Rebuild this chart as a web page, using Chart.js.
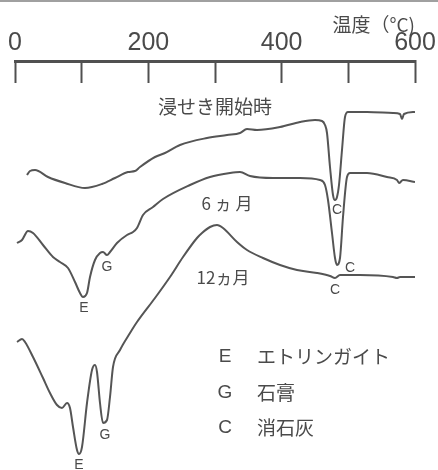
<!DOCTYPE html>
<html>
<head>
<meta charset="utf-8">
<script src="https://cdn.jsdelivr.net/npm/chart.js@4.4.0/dist/chart.umd.min.js"></script>
<style>
  html, body { margin: 0; padding: 0; background: #fff; }
  #wrap { width: 438px; height: 470px; }
</style>
</head>
<body>
<div id="wrap"><canvas id="myChart" width="438" height="470"></canvas></div>
<script>
// DTA curves, x = temperature (°C), y = signal (arbitrary units, curves offset)
var temp0 = [18, 22.5, 30, 49.5, 75, 105, 130.5, 150, 169.5, 180, 187.5, 210, 225, 247.5, 288, 318, 337.5, 348, 363, 397.5, 427.5, 450, 460.5, 465, 468, 472.5, 477, 480, 483, 486, 490.5, 495, 499.5, 528, 567, 577.5, 580.5, 583.5, 600];
var dta0 = [71.5, 72.5, 72.75, 71, 69.5, 68.25, 69.25, 70.75, 72.25, 72.5, 73.5, 76, 77, 79, 80.75, 81.5, 82, 83, 82.75, 83.5, 84.75, 85.25, 85, 84, 82, 73.5, 66.5, 65.25, 66, 69, 77.75, 86, 87.25, 87.25, 87, 86.75, 85.5, 86.75, 87.25];

var temp6 = [3, 10.5, 19.5, 27, 42, 57, 67.5, 79.5, 90, 97.5, 102, 108, 112.5, 120, 127.5, 132, 138, 142.5, 153, 168, 177, 183, 192, 207, 222, 262.5, 292.5, 322.5, 337.5, 352.5, 387, 427.5, 457.5, 465, 469.5, 475.5, 480, 483, 487.5, 492, 498, 502.5, 528, 558, 573, 576, 582, 600];
var dta6 = [54.5, 55.25, 57.5, 57, 54, 51, 49.75, 48.25, 44.75, 42, 41, 42, 46, 50.25, 52, 52.25, 51.5, 52.25, 54.5, 56.5, 57.25, 58.25, 61.5, 63.5, 65.5, 69, 71, 72, 72.25, 71.25, 70.75, 70.75, 70.25, 69, 65.25, 57, 50.75, 49, 50.75, 61, 71, 72, 72, 71, 70.25, 69.5, 70.25, 69.75];

var temp12 = [3, 10.5, 15, 27, 42, 52.5, 63, 70.5, 78, 82.5, 87, 93, 96, 100.5, 108, 115.5, 120, 123, 127.5, 132, 138, 142.5, 147, 157.5, 172.5, 183, 210, 232.5, 252, 273, 280.5, 292.5, 303, 312, 333, 348, 372, 397.5, 423, 453, 472.5, 480, 487.5, 517.5, 567, 573, 577.5, 600];
var dta12 = [29.75, 30.5, 29.75, 26, 20.75, 17, 14, 13.25, 14.5, 13.25, 8.5, 2.75, 1.75, 3.5, 14.5, 22.75, 24, 22.25, 14.5, 9.5, 10.25, 16, 23.5, 27.75, 32, 34.75, 40.75, 46, 51, 55.75, 57, 58.5, 59, 58.25, 54.75, 52.75, 50.75, 49, 47.75, 47, 46.25, 45.75, 46.5, 46.5, 46, 45.75, 46, 46];

var tempTicks = [0, 200, 400, 600];

// curve names and peak marks
var curveNames = ['浸せき開始時', '6 ヵ 月', '12ヵ月'];
var peakMarks = ['C', 'C', 'C', 'E', 'G', 'E', 'G'];
var legendKeys = ['E', 'G', 'C'];
var legendNames = ['エトリンガイト', '石膏', '消石灰'];

function toPoints(xs, ys) {
    var pts = [];
    for (var i = 0; i < xs.length; i++) {
        pts.push({ x: xs[i], y: ys[i] });
    }
    return pts;
}

var ink = '#4a4a4a';
var jp = '"Noto Sans CJK JP", "Noto Sans", sans-serif';
var latin = '"Liberation Sans", Arial, sans-serif';

// text placed in data units (°C, signal)
var textItems = [
    { t: curveNames[0], x: 300, y: 88.5, font: '19px ' + jp, align: 'center' },
    { t: curveNames[1], x: 318, y: 64.25, font: '17px ' + jp, align: 'center' },
    { t: curveNames[2], x: 312, y: 45.75, font: '17px ' + jp, align: 'center' },
    { t: peakMarks[0], x: 483, y: 62.75, font: '14px ' + latin, align: 'center' },
    { t: peakMarks[1], x: 502.5, y: 48.25, font: '14px ' + latin, align: 'center' },
    { t: peakMarks[2], x: 480, y: 42.75, font: '14px ' + latin, align: 'center' },
    { t: peakMarks[3], x: 103.5, y: 38.25, font: '14px ' + latin, align: 'center' },
    { t: peakMarks[4], x: 138, y: 48.5, font: '14px ' + latin, align: 'center' },
    { t: peakMarks[5], x: 96, y: -1, font: '14px ' + latin, align: 'center' },
    { t: peakMarks[6], x: 135, y: 6.5, font: '14px ' + latin, align: 'center' }
];
var legendRowsY = [26, 17, 8.25];
for (var k = 0; k < legendKeys.length; k++) {
    textItems.push({ t: legendKeys[k], x: 315, y: legendRowsY[k], font: '19px ' + latin, align: 'center' });
    textItems.push({ t: legendNames[k], x: 363, y: legendRowsY[k], font: '19px ' + jp, align: 'left' });
}

var labelPlugin = {
    id: 'labels',
    beforeDraw: function (chart) {
        var c = chart.ctx;
        c.save();
        c.fillStyle = '#a0a0a0';
        c.fillRect(0, 0, chart.width, 2);
        c.restore();
    },
    afterDraw: function (chart) {
        var c = chart.ctx;
        var xs = chart.scales.x, ys = chart.scales.y;
        c.save();
        c.fillStyle = ink;
        c.textBaseline = 'middle';
        textItems.forEach(function (it) {
            c.font = it.font;
            c.textAlign = it.align;
            c.fillText(it.t, xs.getPixelForValue(it.x), ys.getPixelForValue(it.y));
        });
        c.restore();
    }
};

var lineStyle = {
    borderColor: '#555',
    borderWidth: 2,
    pointRadius: 0,
    fill: false,
    cubicInterpolationMode: 'monotone'
};

const ctx = document.getElementById('myChart').getContext('2d');
const myChart = new Chart(ctx, {
    type: 'line',
    data: {
        datasets: [
            Object.assign({ label: curveNames[0], data: toPoints(temp0, dta0) }, lineStyle),
            Object.assign({ label: curveNames[1], data: toPoints(temp6, dta6) }, lineStyle),
            Object.assign({ label: curveNames[2], data: toPoints(temp12, dta12) }, lineStyle)
        ]
    },
    options: {
        responsive: false,
        animation: false,
        layout: { padding: { left: 15, right: 23, top: 0, bottom: 9 } },
        plugins: { legend: { display: false }, tooltip: { enabled: false } },
        scales: {
            x: {
                type: 'linear',
                position: 'top',
                min: 0,
                max: 600,
                // ticks hang down from the axis line; keep the box at a fixed size
                afterFit: function (scale) {
                    scale.paddingLeft = 0;
                    scale.paddingRight = 0;
                    scale.height = 61;
                },
                title: {
                    display: true,
                    text: '温度（°C)',
                    align: 'end',
                    color: ink,
                    font: { family: jp, size: 19 },
                    padding: { top: 13, bottom: 0 }
                },
                grid: { drawOnChartArea: false, drawTicks: true, tickLength: -22, tickWidth: 2, tickColor: '#505050' },
                border: { display: true, width: 3, color: '#505050' },
                ticks: {
                    stepSize: 100,
                    padding: 25,
                    maxRotation: 0,
                    color: ink,
                    font: { family: latin, size: 25 },
                    callback: function (v) { return tempTicks.indexOf(v) >= 0 ? v : ''; }
                }
            },
            y: { display: false, min: 0, max: 100 }
        }
    },
    plugins: [labelPlugin]
});
</script>
</body>
</html>
